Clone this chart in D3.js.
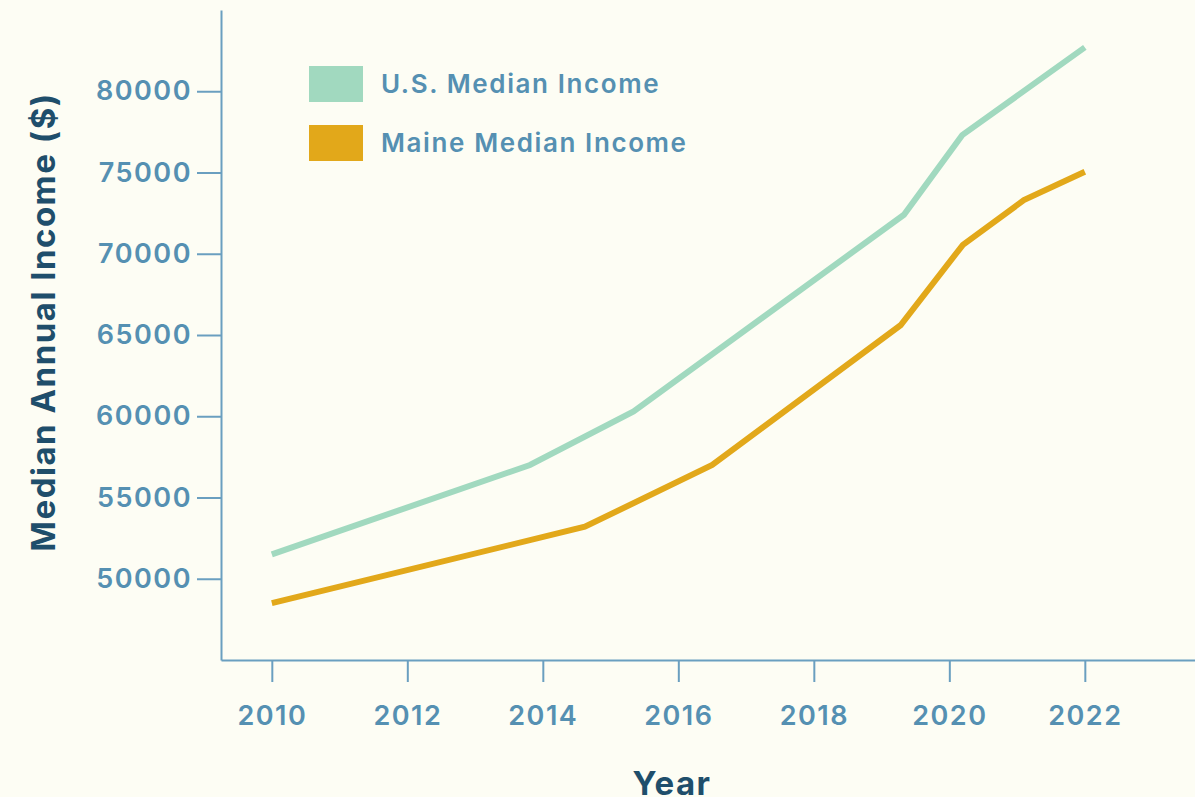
<!DOCTYPE html>
<html>
<head>
<meta charset="utf-8">
<script src="https://d3js.org/d3.v7.min.js"></script>
<style>
  body { margin: 0; background: #fdfdf4; }
  svg { display: block; }
</style>
</head>
<body>
<svg width="1195" height="797"></svg>
<script>
// data (fractional x = position between year ticks)
var usYears    = [2010, 2013.81, 2015.34, 2019.33, 2020.19, 2022];
var usIncome   = [51500, 57000, 60300, 72400, 77300, 82700];
var meYears    = [2010, 2014.62, 2016.5, 2019.28, 2020.2, 2021.1, 2022];
var meIncome   = [48500, 53200, 57000, 65600, 70550, 73300, 75050];
var xTicks     = [2010, 2012, 2014, 2016, 2018, 2020, 2022];
var yTicks     = [50000, 55000, 60000, 65000, 70000, 75000, 80000];
var seriesNames = ["U.S. Median Income", "Maine Median Income"];
var colors = ["#a1d9bf", "#e2a81a"];

var axisColor = "#6a9fc0";
var labelColor = "#5590b2";
var titleColor = "#1f4e6b";
var font = "Inter, 'Open Sans', sans-serif";

var svg = d3.select("svg");

var x = d3.scaleLinear().domain([2009.25, 2023.7]).range([221, 1200]);
var y = d3.scaleLinear().domain([45000, 85000]).range([660, 10]);

var series = [
  usYears.map(function(d, i) { return [d, usIncome[i]]; }),
  meYears.map(function(d, i) { return [d, meIncome[i]]; })
];

// axes
var gx = svg.append("g")
  .attr("transform", "translate(0,660)")
  .call(d3.axisBottom(x).tickValues(xTicks).tickFormat(d3.format("d"))
    .tickSize(22).tickSizeOuter(0).tickPadding(24));

var gy = svg.append("g")
  .attr("transform", "translate(221,0)")
  .call(d3.axisLeft(y).tickValues(yTicks).tickFormat(d3.format("d"))
    .tickSize(24).tickSizeOuter(0).tickPadding(5));

[gx, gy].forEach(function(g) {
  g.selectAll("path, line").attr("stroke", axisColor).attr("stroke-width", 2);
  g.selectAll("text")
    .attr("fill", labelColor)
    .style("font-family", font)
    .style("font-weight", 600)
    .style("font-size", "27px")
    .style("letter-spacing", "1.5px");
});

// lines
var line = d3.line()
  .x(function(d) { return x(d[0]); })
  .y(function(d) { return y(d[1]); });

svg.selectAll(".series")
  .data(series)
  .enter().append("path")
    .attr("class", "series")
    .attr("d", line)
    .attr("fill", "none")
    .attr("stroke", function(d, i) { return colors[i]; })
    .attr("stroke-width", 6);

// legend
var legend = svg.selectAll(".legend")
  .data(seriesNames)
  .enter().append("g")
    .attr("class", "legend")
    .attr("transform", function(d, i) { return "translate(309," + (66 + i * 59) + ")"; });

legend.append("rect")
  .attr("width", 54)
  .attr("height", 36)
  .attr("fill", function(d, i) { return colors[i]; });

legend.append("text")
  .attr("x", 72)
  .attr("y", 18)
  .attr("dy", "0.35em")
  .attr("fill", labelColor)
  .style("font-family", font)
  .style("font-weight", 600)
  .style("font-size", "26px")
  .style("letter-spacing", "1.6px")
  .text(function(d) { return d; });

// axis titles
svg.append("text")
  .attr("transform", "translate(55,322) rotate(-90)")
  .attr("text-anchor", "middle")
  .attr("fill", titleColor)
  .style("font-family", font)
  .style("font-weight", 700)
  .style("font-size", "33px")
  .style("letter-spacing", "1.5px")
  .text("Median Annual Income ($)");

svg.append("text")
  .attr("x", 672)
  .attr("y", 795)
  .attr("text-anchor", "middle")
  .attr("fill", titleColor)
  .style("font-family", font)
  .style("font-weight", 700)
  .style("font-size", "33px")
  .style("letter-spacing", "1.5px")
  .text("Year");
</script>
</body>
</html>
